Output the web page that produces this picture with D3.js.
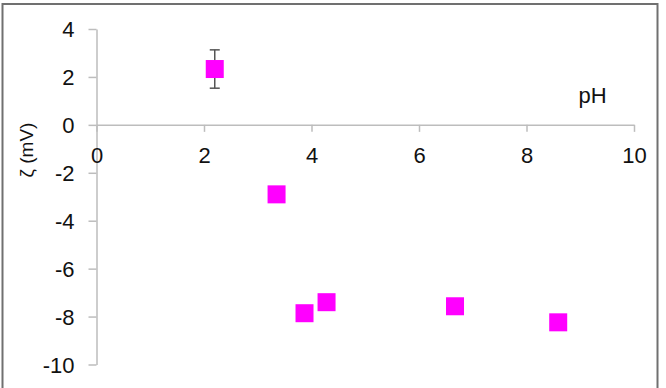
<!DOCTYPE html>
<html>
<head>
<meta charset="utf-8">
<script src="https://cdn.jsdelivr.net/npm/d3@7"></script>
<style>
  body { margin: 0; background: #fff; }
  svg { display: block; }
  text { font-family: Arial, "Liberation Sans", sans-serif; }
</style>
</head>
<body>
<div id="chart"></div>
<script>
// Data
const phValues = [2.2, 3.35, 3.87, 4.28, 6.67, 8.59];
const zetaValues = [2.33, -2.9, -7.86, -7.4, -7.57, -8.24];
const zetaErrors = [0.8, 0, 0, 0, 0, 0];
const xTicks = [0, 2, 4, 6, 8, 10];
const yTicks = [4, 2, 0, -2, -4, -6, -8, -10];

const width = 666, height = 388;

const svg = d3.select("#chart")
    .append("svg")
    .attr("width", width)
    .attr("height", height);

// Outer frame (bottom edge falls outside the picture)
svg.append("rect")
    .attr("x", 2.5)
    .attr("y", 4)
    .attr("width", 655)
    .attr("height", 400)
    .attr("fill", "none")
    .attr("stroke", "#707070")
    .attr("stroke-width", 2);

// Scales
const x = d3.scaleLinear().domain([0, 10]).range([96.5, 634]);
const y = d3.scaleLinear().domain([-10, 4]).range([364.5, 29]);

const axisColor = "#bdbdbd";
const labelSize = "22px";

// Y axis (ticks to the left)
const yAxis = svg.append("g")
    .attr("transform", `translate(${x(0)},0)`)
    .call(d3.axisLeft(y).tickValues(yTicks).tickSize(8).tickSizeOuter(0).tickFormat(d3.format("d")));
yAxis.attr("font-family", null);
yAxis.select(".domain").attr("stroke", axisColor).attr("stroke-width", 1.5);
yAxis.selectAll(".tick line").attr("stroke", axisColor).attr("stroke-width", 1.5);
yAxis.selectAll(".tick text")
    .attr("x", -22)
    .attr("dy", "0.36em")
    .style("font-size", labelSize)
    .style("fill", "#111")
    .text(d => d < 0 ? "-" + Math.abs(d) : d);

// X axis at y = 0 (ticks downward)
const xAxis = svg.append("g")
    .attr("transform", `translate(0,${y(0)})`)
    .call(d3.axisBottom(x).tickValues(xTicks).tickSize(7).tickSizeOuter(0));
xAxis.attr("font-family", null);
xAxis.select(".domain").attr("stroke", axisColor).attr("stroke-width", 1.5);
xAxis.selectAll(".tick line").attr("stroke", axisColor).attr("stroke-width", 1.5);
xAxis.selectAll(".tick text")
    .attr("y", 38)
    .attr("dy", 0)
    .style("font-size", labelSize)
    .style("fill", "#111");

// Axis titles
svg.append("text")
    .attr("x", 592.5)
    .attr("y", 102.5)
    .attr("text-anchor", "middle")
    .style("font-size", "22px")
    .style("fill", "#111")
    .text("pH");

svg.append("text")
    .attr("transform", "translate(33,150) rotate(-90)")
    .attr("text-anchor", "middle")
    .style("font-size", "19px")
    .style("fill", "#111")
    .text("ζ (mV)");

// Error bars
const points = phValues.map((p, i) => ({ ph: p, zeta: zetaValues[i], err: zetaErrors[i] }));
const errG = svg.append("g")
    .attr("stroke", "#555")
    .attr("stroke-width", 1.5);
points.filter(d => d.err > 0).forEach(d => {
    errG.append("line")
        .attr("x1", x(d.ph)).attr("x2", x(d.ph))
        .attr("y1", y(d.zeta + d.err)).attr("y2", y(d.zeta - d.err));
    [d.zeta + d.err, d.zeta - d.err].forEach(v => {
        errG.append("line")
            .attr("x1", x(d.ph) - 5).attr("x2", x(d.ph) + 5)
            .attr("y1", y(v)).attr("y2", y(v));
    });
});

// Square markers
const size = 18;
svg.append("g")
    .selectAll("rect")
    .data(points)
    .enter()
    .append("rect")
    .attr("x", d => x(d.ph) - size / 2)
    .attr("y", d => y(d.zeta) - size / 2)
    .attr("width", size)
    .attr("height", size)
    .attr("fill", "#ff00ff");
</script>
</body>
</html>
